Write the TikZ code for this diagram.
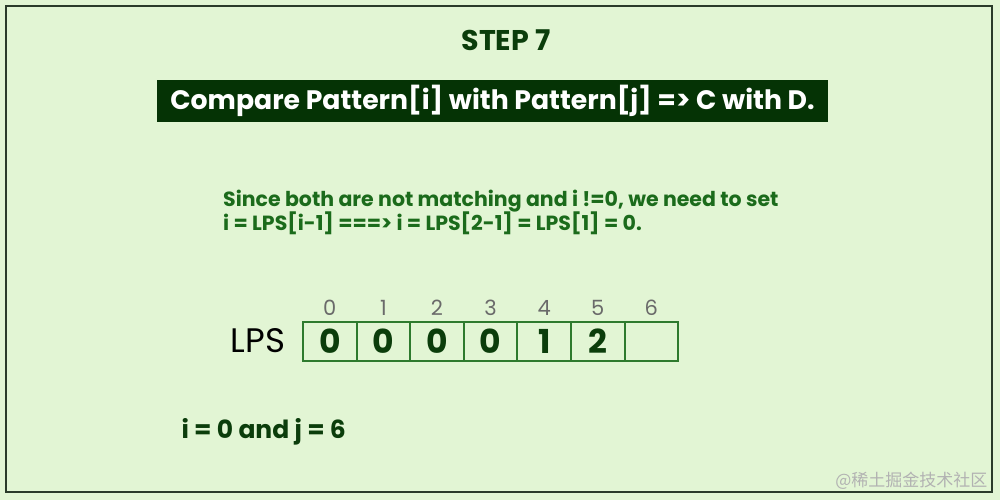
\documentclass[tikz,border=0pt]{standalone}
\usepackage{fontspec}
\setmainfont{Poppins}
\newfontfamily\cjk{Noto Sans CJK SC}
\usetikzlibrary{positioning}

\definecolor{bggreen}{HTML}{E2F5D4}
\definecolor{framedark}{HTML}{2A3A2A}
\definecolor{darkgreen}{HTML}{0B3D0B}
\definecolor{boxgreen}{HTML}{053305}
\definecolor{textgreen}{HTML}{1B6B1B}
\definecolor{cellgreen}{HTML}{2E7A2E}
\definecolor{indexgray}{HTML}{6A6A6A}

\begin{document}
\begin{tikzpicture}[x=1pt, y=-1pt]
		% Define styles
		\tikzstyle{title} = [text=darkgreen, font=\bfseries\fontsize{28.5}{32}\selectfont]
		\tikzstyle{banner} = [rectangle, fill=boxgreen, text=white, minimum width=671pt, minimum height=42pt, inner sep=0pt, font=\bfseries\fontsize{26.7}{32}\selectfont]
		\tikzstyle{note} = [text=textgreen, align=left, anchor=north west, inner sep=0pt, font=\bfseries\fontsize{20.5}{23}\selectfont]
		\tikzstyle{cell} = [rectangle, minimum width=53.6pt, minimum height=39pt, inner sep=0pt, outer sep=0pt, draw=cellgreen, line width=2pt, text=darkgreen, font=\bfseries\fontsize{33}{33}\selectfont]
		\tikzstyle{index} = [text=indexgray, font=\fontsize{21}{21}\selectfont]

		% Background and frame
		\fill[bggreen] (0,0) rectangle (1000,500);
		\draw[framedark, line width=2.5pt] (6,6) rectangle (992,492);

		% Heading
		\node[title] (step) at (506,40) {STEP 7};
		\node[banner] (compare) at (492.5,101) {Compare Pattern[i] with Pattern[j] => C with D.};

		% Explanation
		\node[note] (reason) at (223,190) {Since both are not matching and i !=0, we need to set\\[-1pt]i = LPS[i-1] ===> i = LPS[2-1] = LPS[1] = 0.};

		% LPS array
		\node[font=\fontsize{34}{34}\selectfont] (lps) at (258,341) {LPS};
		\node[cell, anchor=west] (c0) at (303,341.5) {0};
		\node[cell, right=0pt of c0] (c1) {0};
		\node[cell, right=0pt of c1] (c2) {0};
		\node[cell, right=0pt of c2] (c3) {0};
		\node[cell, right=0pt of c3] (c4) {1};
		\node[cell, right=0pt of c4] (c5) {2};
		\node[cell, right=0pt of c5] (c6) {};

		% Indices
		\node[index, above=3pt of c0] (i0) {0};
		\node[index, above=3pt of c1] (i1) {1};
		\node[index, above=3pt of c2] (i2) {2};
		\node[index, above=3pt of c3] (i3) {3};
		\node[index, above=3pt of c4] (i4) {4};
		\node[index, above=3pt of c5] (i5) {5};
		\node[index, above=3pt of c6] (i6) {6};

		% State
		\node[title, anchor=west, font=\bfseries\fontsize{25}{28}\selectfont] (state) at (178,432) {i = 0 and j = 6};

		% Watermark
		\node[text=gray!60, font=\cjk\fontsize{17}{17}\selectfont, anchor=east] (mark) at (991,481) {@稀土掘金技术社区};
	\end{tikzpicture}
\end{document}
